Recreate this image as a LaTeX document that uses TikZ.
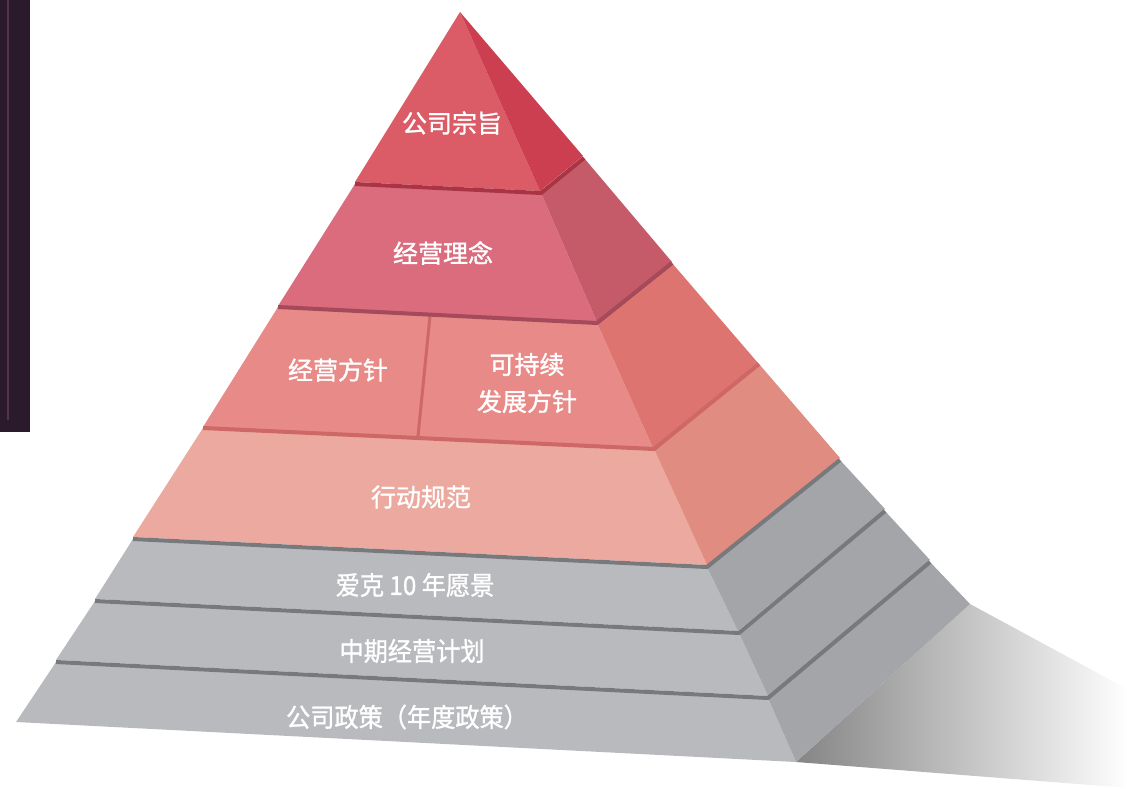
\documentclass[tikz,border=0pt]{standalone}
\usepackage{fontspec}
\newfontfamily\cjk{Noto Sans CJK SC}[FakeBold=1.2]
\definecolor{strip}{RGB}{42,26,44}\definecolor{stripl}{RGB}{80,55,72}
\definecolor{f1}{RGB}{219,92,102}\definecolor{s1}{RGB}{204,63,80}
\definecolor{f2}{RGB}{218,108,126}\definecolor{s2}{RGB}{197,90,104}
\definecolor{f3}{RGB}{232,138,136}\definecolor{s3}{RGB}{222,116,111}
\definecolor{f4}{RGB}{235,169,160}\definecolor{s4}{RGB}{224,140,128}
\definecolor{fg}{RGB}{185,186,190}\definecolor{sg}{RGB}{164,165,169}
\definecolor{e1}{RGB}{168,52,68}\definecolor{e2}{RGB}{164,74,90}
\definecolor{e3}{RGB}{205,104,102}\definecolor{eg}{RGB}{120,121,125}
\begin{document}
\begin{tikzpicture}[x=1pt,y=-1pt,
  lbl/.style={text=white,font=\cjk\fontsize{25pt}{37pt}\selectfont,align=center,inner sep=0pt},
  glbl/.style={text=white,font=\cjk\fontsize{26pt}{30pt}\selectfont,inner sep=0pt,xscale=0.93},
  ledge/.style={line width=4pt,line join=round}]
\useasboundingbox (0,0) rectangle (1129,789);
% left dark strip
\fill[strip] (0,0) rectangle (30,432);
\draw[stripl,line width=1.5pt] (8,0) -- (8,420);
% shadow
\shade[left color=black!48,right color=white,draw=none] (796,762) -- (970,604) -- (1129,690) -- (1129,788) -- cycle;
% layer 7
\fill[fg] (56,662) -- (768,698) -- (796,762) -- (16,722) -- cycle;
\fill[sg] (768,698) -- (930,562) -- (970,604) -- (796,762) -- cycle;
% layer 6
\fill[fg] (95,601) -- (739,633) -- (768,696) -- (56,660) -- cycle;
\fill[sg] (739,633) -- (885,511) -- (930,560) -- (768,696) -- cycle;
% layer 5
\fill[fg] (133,539) -- (707,567) -- (738,631) -- (95,599) -- cycle;
\fill[sg] (707,567) -- (840,460) -- (885,509) -- (738,631) -- cycle;
% layer 4
\fill[f4] (203,428) -- (654,449) -- (707,565) -- (133,537) -- cycle;
\fill[s4] (654,449) -- (759,364) -- (840,458) -- (707,565) -- cycle;
% layer 3
\fill[f3] (278,307) -- (597,323) -- (653,448) -- (203,427) -- cycle;
\fill[s3] (597,323) -- (672,263) -- (758,363) -- (653,448) -- cycle;
\draw[e3,line width=3pt] (430,316) -- (418,436);
% layer 2
\fill[f2] (355,184) -- (541,193) -- (597,322) -- (278,306) -- cycle;
\fill[s2] (541,193) -- (584,158) -- (672,262) -- (597,322) -- cycle;
% layer 1
\fill[f1] (460,12) -- (540,191) -- (355,182) -- cycle;
\fill[s1] (460,12) -- (583,156) -- (540,191) -- cycle;
% ledges
\draw[ledge,e1] (355,184) -- (541,193) -- (584,158);
\draw[ledge,e2] (278,307) -- (597,323) -- (672,263);
\draw[ledge,e3] (203,428) -- (654,449) -- (759,364);
\draw[ledge,eg] (133,539) -- (707,567) -- (840,460);
\draw[ledge,eg] (95,601) -- (739,633) -- (885,511);
\draw[ledge,eg] (56,662) -- (768,698) -- (930,562);
% labels
\node[lbl] (t1) at (452,123) {公司宗旨};
\node[lbl] (t2) at (443,253) {经营理念};
\node[lbl] (t3a) at (338,370) {经营方针};
\node[lbl] (t3b) at (527,383) {可持续\\发展方针};
\node[lbl] (t4) at (421,497) {行动规范};
\node[glbl] (t5) at (415,585) {爱克 10 年愿景};
\node[glbl] (t6) at (412,651) {中期经营计划};
\node[glbl] (t7) at (407,717) {公司政策（年度政策）};
\end{tikzpicture}
\end{document}
